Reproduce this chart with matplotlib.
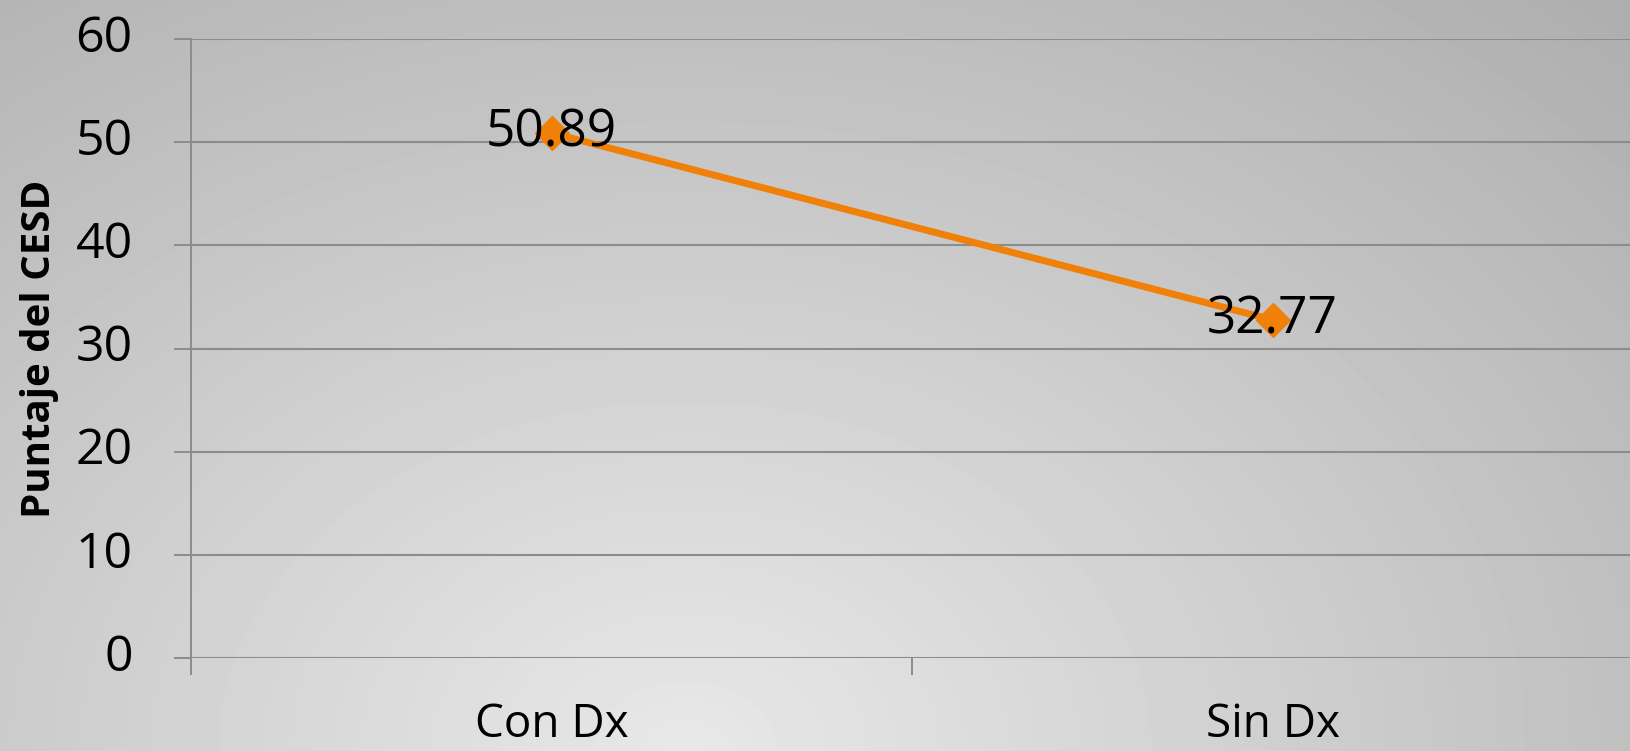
import numpy as np
import matplotlib
matplotlib.use("Agg")
import matplotlib.pyplot as plt

categories = ["Con Dx", "Sin Dx"]
scores = [50.89, 32.77]
score_labels = ["50.89", "32.77"]
yticks = [0, 10, 20, 30, 40, 50, 60]

plt.rcParams['font.family'] = ['Open Sans', 'DejaVu Sans']

W, H = 1630, 751
fig = plt.figure(figsize=(W / 100, H / 100), dpi=100)

# radial grey background, light near bottom centre (row 0 = top)
bg = fig.add_axes([0, 0, 1, 1], zorder=-10)
yy, xx = np.mgrid[0:H, 0:W]
d = np.sqrt(((xx - 0.42 * W) / W) ** 2 + ((yy - 1.0 * H) / (0.75 * W)) ** 2)
d = d / d.max()
shade = 0.91 - 0.23 * d
bg.imshow(shade, cmap='gray', vmin=0, vmax=1, origin='upper', aspect='auto',
          extent=[0, 1, 0, 1])
bg.set_axis_off()

ax = fig.add_axes([191 / W, (H - 658) / H, (1633 - 191) / W, (658 - 39) / H])
ax.patch.set_alpha(0)

x = np.arange(len(categories))
ax.plot(x, scores, color='#f08008', lw=5, marker='D', ms=17, zorder=3,
        solid_capstyle='butt')
for xi, v, lab in zip(x, scores, score_labels):
    ax.text(xi, v, lab, ha='center', va='center', fontsize=37, color='black',
            zorder=4)

ax.set_xlim(-0.5, len(categories) - 0.5)
ax.set_ylim(0, 60)
ax.set_yticks(yticks)
ax.set_yticklabels([str(t) for t in yticks], fontsize=36)
ax.set_xticks(x)
ax.set_xticklabels(categories, fontsize=33)
ax.tick_params(axis='x', length=0, pad=32)
ax.set_xticks(np.arange(-0.5, len(categories), 1.0), minor=True)
ax.tick_params(axis='x', which='minor', length=12, width=1.4, color='#8c8c8c')
ax.tick_params(axis='y', length=12, width=1.4, color='#8c8c8c', pad=30)
for t in ax.get_yticklabels():
    t.set_verticalalignment('center')

ax.grid(axis='y', color='#8c8c8c', lw=1.5)
ax.set_axisbelow(True)
for s in ['top', 'right', 'bottom']:
    ax.spines[s].set_visible(False)
ax.spines['left'].set_color('#8c8c8c')
ax.spines['left'].set_linewidth(1.4)

ax.set_ylabel("Puntaje del CESD", fontsize=29, fontweight='bold', labelpad=12)

fig.savefig("out.png", dpi=100)
